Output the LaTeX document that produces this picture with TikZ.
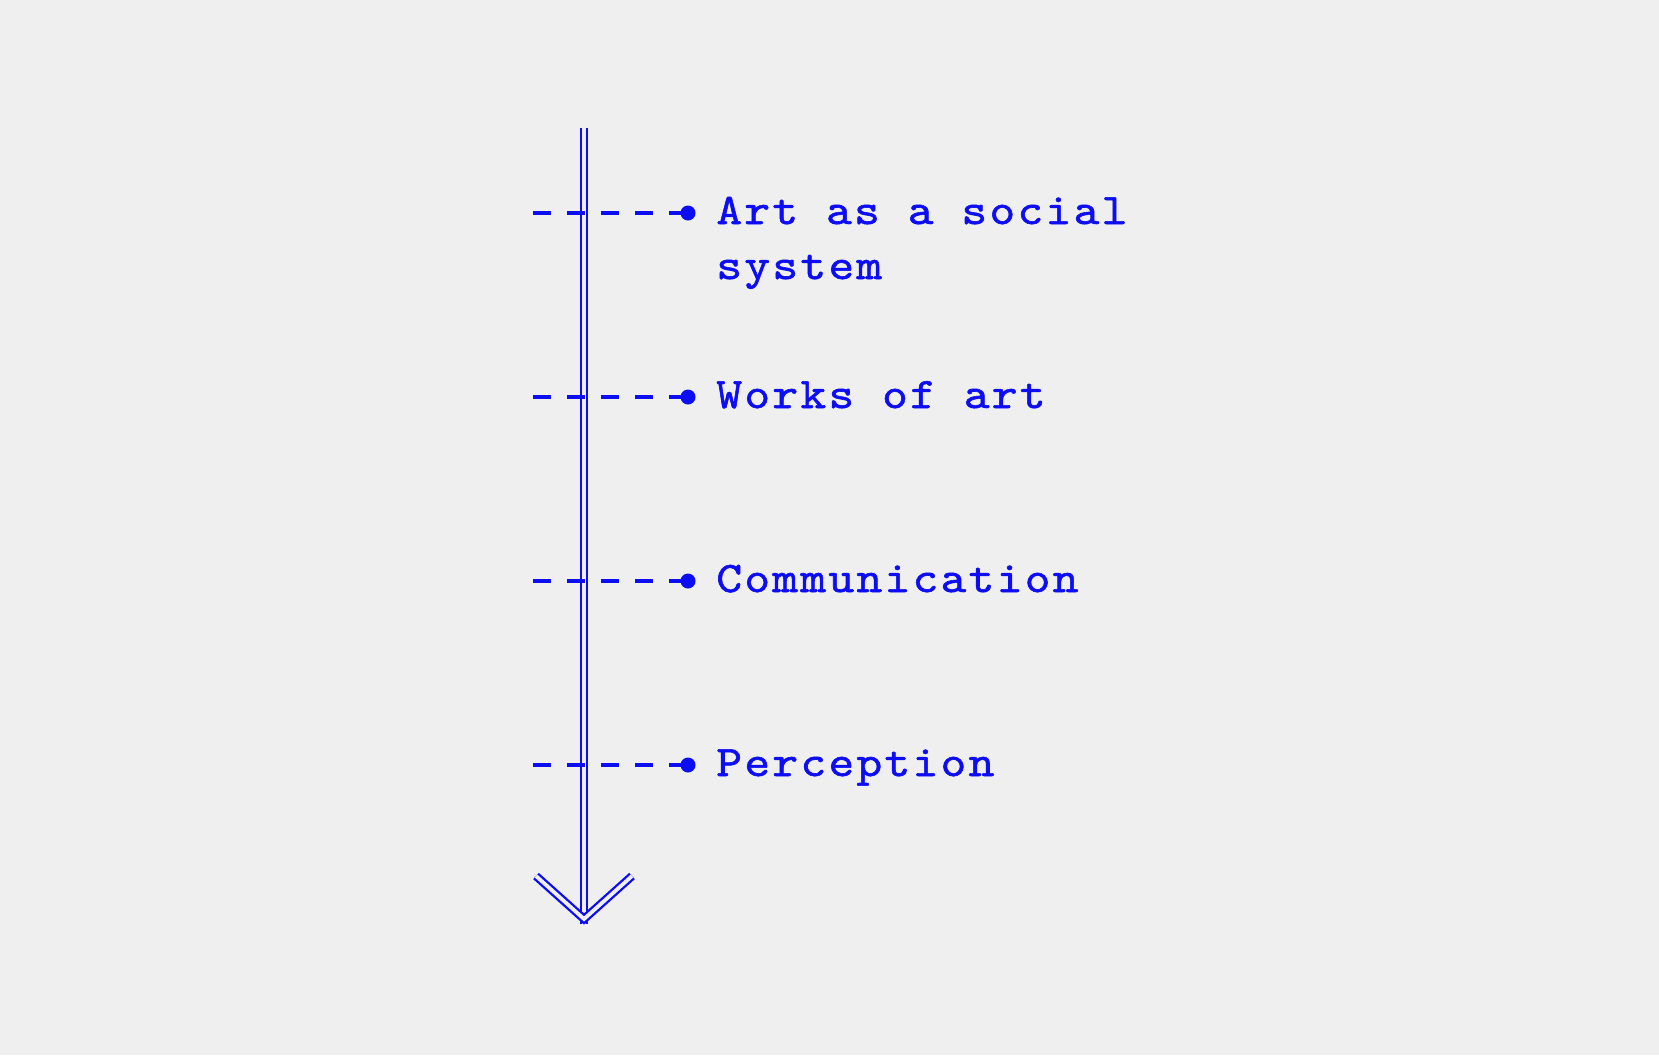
\documentclass[tikz,border=0pt]{standalone}
\usepackage{fontspec}
\newfontfamily\cour{lmmono10-regular}[Extension=.otf,FakeStretch=1.12,FakeBold=1.3,LetterSpace=5.5]
\definecolor{bgc}{RGB}{239,239,239}
\definecolor{ink}{RGB}{12,12,245}
\begin{document}
\begin{tikzpicture}[x=0.5pt,y=-0.5pt,
  axis/.style={draw=ink,line width=1.15pt,double=bgc,double distance=1.9pt},
  tick/.style={draw=ink,line width=2pt,dash pattern=on 9pt off 8pt},
  dotmark/.style={circle,fill=ink,inner sep=0pt,minimum size=7.5pt},
  lbl/.style={anchor=base west,inner sep=0pt,text=ink,
    font=\cour\fontsize{21.8}{27.5}\selectfont}]
\fill[bgc] (0,0) rectangle (1659,1055);
\useasboundingbox (0,0) rectangle (1659,1055);
% axis
\coordinate (top) at (584,128);
\coordinate (tip) at (584,919);
\coordinate (armL) at (536,876);
\coordinate (armR) at (632,876);
\draw[axis] (top) -- (584,924);
\draw[axis,line join=miter] (armL) -- (tip) -- (armR);
% rows
\foreach \y/\n/\t in {213/a/{\begin{tabular}[t]{@{}l@{}}Art as a social\\system\end{tabular}},397/b/{Works of art},581/c/{Communication},765/d/{Perception}}{
  \coordinate (s\n) at (533,\y);
  \node[dotmark] (d\n) at (688,\y) {};
  \draw[tick] (s\n) -- (d\n.center);
  \node[lbl] (t\n) at (716,\y+11) {\t};
}
\end{tikzpicture}
\end{document}
